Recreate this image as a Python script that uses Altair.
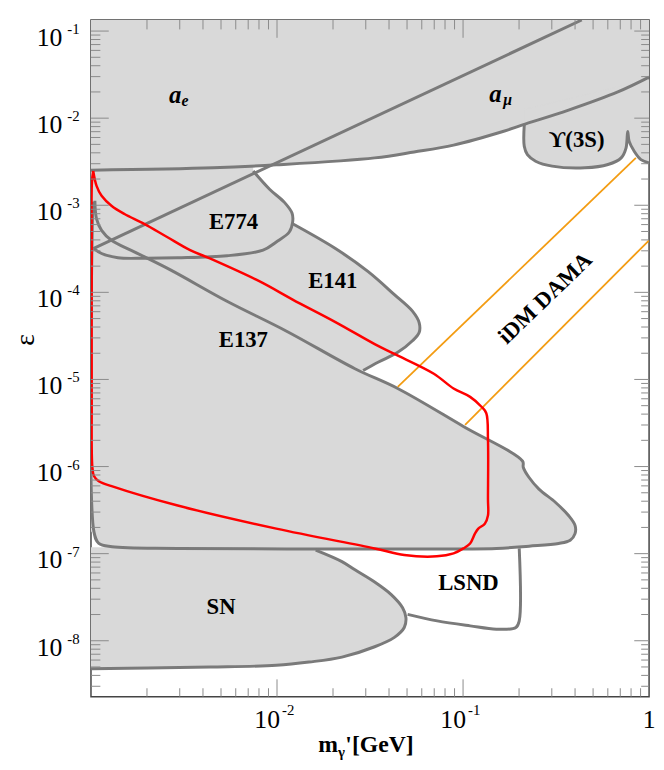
import altair as alt
import pandas as pd

# ---------------- data (log10 values) ----------------
X_DOMAIN = [1e-3, 1.0]
Y_DOMAIN = [10 ** -8.642, 10 ** -0.873]

# lower edge of the a_mu / a_e excluded band
AMU_LOGM = [-3.0, -2.343, -2.004, -1.475, -1.263, -1.051, -0.786, -0.680, -0.433, -0.168, 0.0]
AMU_LOGEPS = [-2.598, -2.570, -2.536, -2.456, -2.388, -2.309, -2.153, -2.078, -1.908, -1.699, -1.529]

# a_e boundary (straight diagonal)
AE_LOGM = [-2.988, -0.362]
AE_LOGEPS = [-3.497, -0.873]

# Upsilon(3S)
UPS_LOGM = [-0.671, -0.671, -0.654, -0.610, -0.521, -0.345, -0.221, -0.150, -0.124, -0.115, -0.107, -0.080, -0.044, 0.0]
UPS_LOGEPS = [-2.078, -2.323, -2.419, -2.494, -2.551, -2.570, -2.532, -2.456, -2.343, -2.153, -2.267, -2.380, -2.476, -2.513]

# E774
E774_LOGM = [-2.128, -2.040, -1.960, -1.919, -1.916, -1.934, -2.004, -2.075, -2.269, -2.534, -2.710, -2.855, -2.943, -2.984]
E774_LOGEPS = [-2.607, -2.816, -2.967, -3.092, -3.194, -3.307, -3.421, -3.515, -3.580, -3.603, -3.608, -3.603, -3.554, -3.497]

# E141
E141_LOGM = [-1.916, -1.686, -1.510, -1.369, -1.272, -1.236, -1.236, -1.272, -1.351, -1.457, -1.537]
E141_LOGEPS = [-3.213, -3.497, -3.762, -4.026, -4.216, -4.348, -4.462, -4.556, -4.689, -4.802, -4.897]

# E137
E137_LOGM = [-2.979, -2.970, -2.943, -2.890, -2.767, -2.573, -2.269, -1.951, -1.581, -1.351, -0.998,
             -0.680, -0.676, -0.645, -0.592, -0.504, -0.433, -0.398, -0.398, -0.424, -0.486, -0.645,
             -0.821, -1.475, -2.534, -2.887, -2.958, -2.984]
E137_LOGEPS = [-2.948, -3.157, -3.288, -3.402, -3.535, -3.742, -4.102, -4.443, -4.877, -5.104, -5.540,
               -5.938, -6.010, -6.126, -6.259, -6.410, -6.562, -6.675, -6.770, -6.846, -6.883, -6.914,
               -6.940, -6.946, -6.940, -6.921, -6.883, -6.750]

# SN
SN_LOGM = [-1.792, -1.651, -1.581, -1.475, -1.386, -1.325, -1.307, -1.316, -1.369, -1.475, -1.651, -1.828, -2.004, -2.358, -2.693, -3.0]
SN_LOGEPS = [-6.959, -7.091, -7.186, -7.326, -7.470, -7.621, -7.734, -7.848, -7.961, -8.069, -8.188, -8.245, -8.282, -8.302, -8.313, -8.321]

# LSND
LSND_LOGM = [-0.698, -0.698, -0.716, -0.821, -0.962, -1.139, -1.298]
LSND_LOGEPS = [-6.940, -7.772, -7.848, -7.867, -7.829, -7.772, -7.697]

# red projected-sensitivity contour
RED_LOGM = [-2.988, -2.970, -2.943, -2.890, -2.820, -2.714, -2.591, -2.467, -2.361, -2.093, -1.916, -1.686,
            -1.475, -1.369, -1.157, -1.051, -0.962, -0.901, -0.875, -0.866, -0.866, -0.866, -0.883, -0.918,
            -0.936, -0.962, -0.998, -1.051, -1.141, -1.316, -1.475, -2.004, -2.534, -2.889, -2.958, -2.984,
            -2.993, -2.996, -2.996, -2.995, -2.988]
RED_LOGEPS = [-2.607, -2.778, -2.891, -3.005, -3.100, -3.213, -3.364, -3.515, -3.611, -3.875, -4.083, -4.341,
              -4.594, -4.707, -4.934, -5.104, -5.200, -5.313, -5.388, -5.691, -6.372, -6.562, -6.656, -6.713,
              -6.770, -6.883, -6.940, -6.997, -7.031, -7.016, -6.940, -6.713, -6.448, -6.225, -6.168, -6.108,
              -5.994, -5.237, -3.535, -2.740, -2.607]

# iDM DAMA band edges (orange)
DAMA_UP_LOGM = [-1.351, -0.071]
DAMA_UP_LOGEPS = [-5.086, -2.456]
DAMA_LO_LOGM = [-0.989, 0.0]
DAMA_LO_LOGEPS = [-5.521, -3.402]

# region labels
LABEL_TEXT = ["E774", "E141", "E137", "SN", "LSND"]
LABEL_LOGM = [-2.234, -1.700, -2.181, -2.301, -0.971]
LABEL_LOGEPS = [-3.188, -3.870, -4.545, -7.609, -7.336]
A_LOGM = [-2.547, -0.826]
A_LOGEPS = [-1.730, -1.719]
SUB_TEXT = ["e", "μ"]
SUB_LOGM = [-2.494, -0.760]
SUB_LOGEPS = [-1.800, -1.795]
UPS_LABEL = ("ϒ(3S)", -0.389, -2.252)
DAMA_LABEL = ("iDM DAMA", -0.558, -4.068)

# tick labels
Y_EXP = [-1, -2, -3, -4, -5, -6, -7, -8]
X_EXP = [-2, -1]

# ---------------- chart ----------------
W, H = 565, 685
FILL = "#d9d9d9"
EDGE = "#7a7a7a"
TICK = "#8a8a8a"
SERIF = "Liberation Serif"

xs = alt.Scale(type="log", domain=X_DOMAIN, nice=False)
ys = alt.Scale(type="log", domain=Y_DOMAIN, nice=False)
X = alt.X("m:Q", scale=xs, axis=None)
Y = alt.Y("eps:Q", scale=ys, axis=None)


def frame(name, lm, le):
    return pd.DataFrame({
        "name": name,
        "i": list(range(len(lm))),
        "m": [10.0 ** v for v in lm],
        "eps": [10.0 ** v for v in le],
    })


# filled polygons (closed beyond the frame, clipped)
fills = pd.concat([
    frame("top", AMU_LOGM + [0.3, -3.3], AMU_LOGEPS + [0.3, 0.3]),
    frame("ups", UPS_LOGM + [0.3, 0.3, -0.671], UPS_LOGEPS + [-2.513, -1.4, -1.9]),
    frame("e774", E774_LOGM + [-3.1, -3.1, -2.128], E774_LOGEPS + [-3.497, -2.55, -2.55]),
    frame("e141", E141_LOGM + E137_LOGM[8:3:-1] + E774_LOGM[10:4:-1],
          E141_LOGEPS + E137_LOGEPS[8:3:-1] + E774_LOGEPS[10:4:-1]),
    frame("e137", E137_LOGM + [-3.1, -3.1], E137_LOGEPS + [-6.75, -2.948]),
    frame("sn", [-3.1, -1.792] + SN_LOGM + [-3.1], [-6.93, -6.93] + SN_LOGEPS + [-8.321]),
])

edges = pd.concat([
    frame("amu", AMU_LOGM, AMU_LOGEPS),
    frame("ups", UPS_LOGM, UPS_LOGEPS),
    frame("e774", E774_LOGM, E774_LOGEPS),
    frame("e141", E141_LOGM, E141_LOGEPS),
    frame("e137", E137_LOGM + [-2.990], E137_LOGEPS + [-2.96]),
    frame("sn", SN_LOGM + [-3.05], SN_LOGEPS + [-8.321]),
    frame("lsnd", LSND_LOGM, LSND_LOGEPS),
])
ae = frame("ae", AE_LOGM, AE_LOGEPS)

dama = pd.concat([
    frame("up", DAMA_UP_LOGM, DAMA_UP_LOGEPS),
    frame("lo", DAMA_LO_LOGM, DAMA_LO_LOGEPS),
])
red = frame("red", RED_LOGM, RED_LOGEPS)

layers = []
layers.append(alt.Chart(fills).mark_line(fill=FILL, stroke=FILL, strokeWidth=0.5, clip=True)
              .encode(x=X, y=Y, detail="name:N", order="i:Q"))
layers.append(alt.Chart(edges).mark_line(color=EDGE, strokeWidth=3, clip=True, strokeJoin="round",
                                         interpolate="catmull-rom")
              .encode(x=X, y=Y, detail="name:N", order="i:Q"))
layers.append(alt.Chart(ae).mark_line(color=EDGE, strokeWidth=3, clip=True)
              .encode(x=X, y=Y, order="i:Q"))
layers.append(alt.Chart(dama).mark_line(color="#f39c12", strokeWidth=1.8, clip=True)
              .encode(x=X, y=Y, detail="name:N", order="i:Q"))
layers.append(alt.Chart(red).mark_line(color="#ff0000", strokeWidth=2.5, clip=True, strokeJoin="round",
                                       interpolate="catmull-rom")
              .encode(x=X, y=Y, order="i:Q"))

# inward ticks on all four sides
x_major = [1e-2, 1e-1]
x_minor = [k * 10.0 ** n for n in (-3, -2, -1) for k in range(2, 10)]
y_major = [10.0 ** e for e in Y_EXP]
y_minor = [k * 10.0 ** n for n in range(-9, -1) for k in range(2, 10)
           if Y_DOMAIN[0] < k * 10.0 ** n < Y_DOMAIN[1]]

for vals, side_len in ((y_major, (18, 15)), (y_minor, (9.5, 8))):
    d = pd.DataFrame({"v": vals})
    yv = alt.Y("v:Q", scale=ys, axis=None)
    layers.append(alt.Chart(d).mark_rule(color=TICK, strokeWidth=1)
                  .encode(y=yv, x=alt.value(0), x2=alt.value(side_len[0])))
    layers.append(alt.Chart(d).mark_rule(color=TICK, strokeWidth=1)
                  .encode(y=yv, x=alt.value(W), x2=alt.value(W - side_len[1])))
for vals, side_len in ((x_major, (18, 17.5)), (x_minor, (9.5, 8.5))):
    d = pd.DataFrame({"v": vals})
    xv = alt.X("v:Q", scale=xs, axis=None)
    layers.append(alt.Chart(d).mark_rule(color=TICK, strokeWidth=1)
                  .encode(x=xv, y=alt.value(0), y2=alt.value(side_len[0])))
    layers.append(alt.Chart(d).mark_rule(color=TICK, strokeWidth=1)
                  .encode(x=xv, y=alt.value(H), y2=alt.value(H - side_len[1])))

# tick labels 10^n
ylab = pd.DataFrame({"v": [10.0 ** e for e in Y_EXP], "base": "10", "sup": [str(e) for e in Y_EXP]})
xlab = pd.DataFrame({"v": [10.0 ** e for e in X_EXP], "base": "10", "sup": [str(e) for e in X_EXP]})
xone = pd.DataFrame({"v": [1.0], "t": ["1"]})
yv = alt.Y("v:Q", scale=ys, axis=None)
xv = alt.X("v:Q", scale=xs, axis=None)
layers.append(alt.Chart(ylab).mark_text(font=SERIF, fontSize=26, align="right", baseline="alphabetic", dy=15)
              .encode(y=yv, x=alt.value(-29), text="base:N"))
layers.append(alt.Chart(ylab).mark_text(font=SERIF, fontSize=15, align="left", baseline="alphabetic", dy=3)
              .encode(y=yv, x=alt.value(-24), text="sup:N"))
layers.append(alt.Chart(xlab).mark_text(font=SERIF, fontSize=26, align="right", baseline="alphabetic", dx=3)
              .encode(x=xv, y=alt.value(H + 32), text="base:N"))
layers.append(alt.Chart(xlab).mark_text(font=SERIF, fontSize=15, align="left", baseline="alphabetic", dx=5)
              .encode(x=xv, y=alt.value(H + 19), text="sup:N"))
layers.append(alt.Chart(xone).mark_text(font=SERIF, fontSize=26, align="center", baseline="alphabetic")
              .encode(x=xv, y=alt.value(H + 32), text="t:N"))

# axis titles
layers.append(alt.Chart(pd.DataFrame({"t": ["ε"]})).mark_text(font=SERIF, fontSize=28, angle=270,
                                                              align="center", baseline="middle")
              .encode(x=alt.value(-66), y=alt.value(324), text="t:N"))
layers.append(alt.Chart(pd.DataFrame({"t": ["m"]})).mark_text(font=SERIF, fontSize=24, fontWeight="bold",
                                                              align="left", baseline="alphabetic")
              .encode(x=alt.value(230), y=alt.value(H + 56), text="t:N"))
layers.append(alt.Chart(pd.DataFrame({"t": ["γ"]})).mark_text(font=SERIF, fontSize=15, fontWeight="bold",
                                                              align="left", baseline="alphabetic")
              .encode(x=alt.value(250), y=alt.value(H + 61), text="t:N"))
layers.append(alt.Chart(pd.DataFrame({"t": ["'[GeV]"]})).mark_text(font=SERIF, fontSize=24, fontWeight="bold",
                                                                   align="left", baseline="alphabetic")
              .encode(x=alt.value(257.5), y=alt.value(H + 56), text="t:N"))

# region labels
lab = frame("lab", LABEL_LOGM, LABEL_LOGEPS).assign(t=LABEL_TEXT)
layers.append(alt.Chart(lab).mark_text(font=SERIF, fontSize=23, fontWeight="bold", align="center", baseline="middle")
              .encode(x=X, y=Y, text="t:N"))
alab = frame("a", A_LOGM, A_LOGEPS).assign(t="a")
layers.append(alt.Chart(alab).mark_text(font=SERIF, fontSize=25, fontWeight="bold", fontStyle="italic",
                                        align="center", baseline="middle")
              .encode(x=X, y=Y, text="t:N"))
slab = frame("s", SUB_LOGM, SUB_LOGEPS).assign(t=SUB_TEXT)
layers.append(alt.Chart(slab).mark_text(font=SERIF, fontSize=16, fontWeight="bold", fontStyle="italic",
                                        align="center", baseline="middle")
              .encode(x=X, y=Y, text="t:N"))
ulab = frame("u", [UPS_LABEL[1]], [UPS_LABEL[2]]).assign(t=UPS_LABEL[0])
layers.append(alt.Chart(ulab).mark_text(font=SERIF, fontSize=23, fontWeight="bold", align="center", baseline="middle")
              .encode(x=X, y=Y, text="t:N"))
dlab = frame("d", [DAMA_LABEL[1]], [DAMA_LABEL[2]]).assign(t=DAMA_LABEL[0])
layers.append(alt.Chart(dlab).mark_text(font=SERIF, fontSize=23, fontWeight="bold", angle=316,
                                        align="center", baseline="middle")
              .encode(x=X, y=Y, text="t:N"))

chart = alt.layer(*layers).properties(
    width=W, height=H,
    padding={"left": 84, "top": 7.5, "right": 7, "bottom": 62},
    autosize=alt.AutoSizeParams(type="none"),
    background="white",
).configure_view(stroke="#444444", strokeWidth=1.5)

chart.save("out.html", embed_options={"renderer": "svg", "actions": False})
